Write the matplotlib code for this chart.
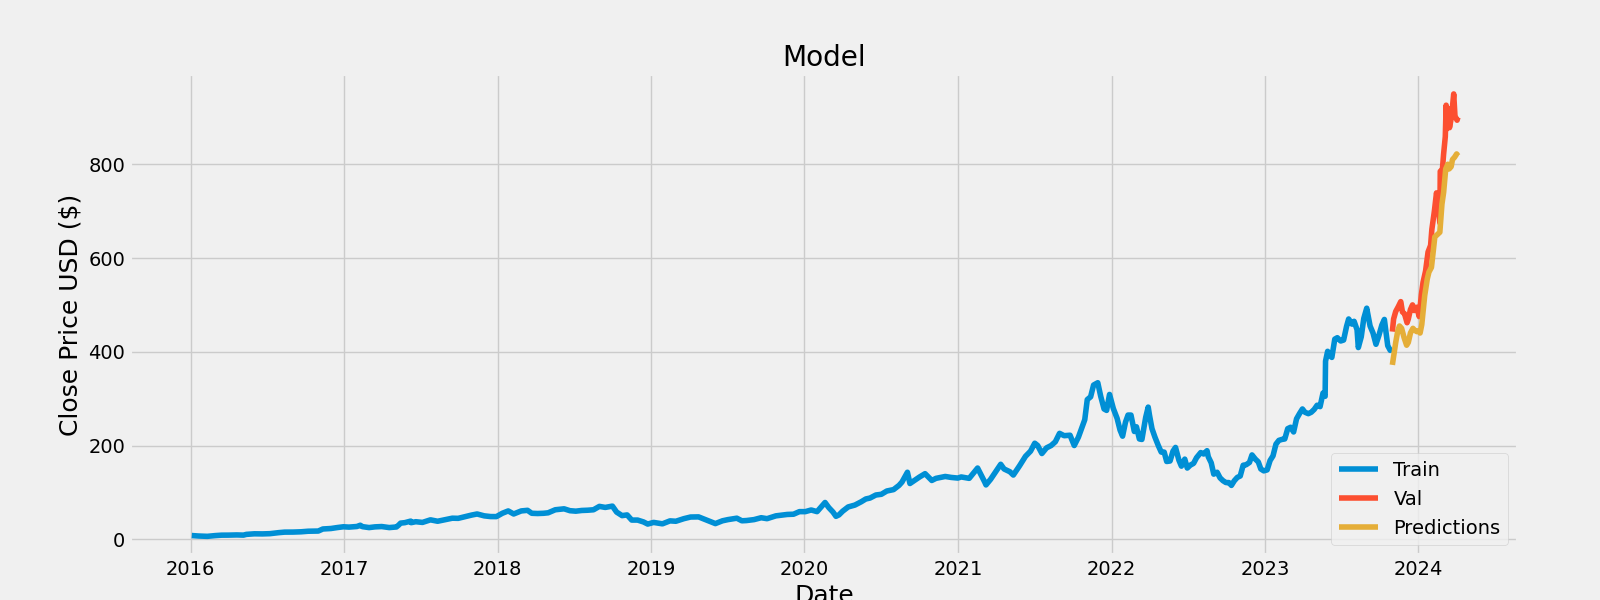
import matplotlib
matplotlib.use("Agg")
import matplotlib.pyplot as plt
import matplotlib.dates as mdates
import pandas as pd

plt.style.use("fivethirtyeight")

# ---- data ----
train_dates = [
    "2016-01-04", "2016-01-20", "2016-02-10", "2016-02-29", "2016-03-15", "2016-04-01", "2016-04-20",
    "2016-05-06", "2016-05-13", "2016-06-01", "2016-06-20", "2016-07-08", "2016-07-29", "2016-08-12",
    "2016-09-01", "2016-09-20", "2016-10-07", "2016-10-31", "2016-11-11", "2016-11-30", "2016-12-15",
    "2016-12-30",
    "2017-01-12", "2017-01-31", "2017-02-08", "2017-02-13", "2017-03-01", "2017-03-15", "2017-03-31",
    "2017-04-18", "2017-05-05", "2017-05-10", "2017-05-15", "2017-05-25", "2017-06-08", "2017-06-09",
    "2017-06-20", "2017-07-06", "2017-07-25", "2017-08-11", "2017-08-31", "2017-09-15", "2017-09-29",
    "2017-10-16", "2017-10-31", "2017-11-13", "2017-11-30", "2017-12-15", "2017-12-29",
    "2018-01-12", "2018-01-26", "2018-02-08", "2018-02-26", "2018-03-13", "2018-03-23", "2018-04-06",
    "2018-04-20", "2018-05-01", "2018-05-18", "2018-06-08", "2018-06-22", "2018-07-06", "2018-07-20",
    "2018-08-03", "2018-08-17", "2018-08-31", "2018-09-14", "2018-10-01", "2018-10-11", "2018-10-24",
    "2018-11-05", "2018-11-16", "2018-11-30", "2018-12-14", "2018-12-24",
    "2019-01-07", "2019-01-28", "2019-02-15", "2019-03-01", "2019-03-20", "2019-04-05", "2019-04-24",
    "2019-05-10", "2019-05-17", "2019-06-03", "2019-06-20", "2019-07-03", "2019-07-24", "2019-08-05",
    "2019-08-16", "2019-09-03", "2019-09-20", "2019-10-04", "2019-10-25", "2019-11-08", "2019-11-21",
    "2019-12-06", "2019-12-20",
    "2020-01-03", "2020-01-17", "2020-01-31", "2020-02-19", "2020-02-28", "2020-03-09", "2020-03-16",
    "2020-03-23", "2020-04-01", "2020-04-14", "2020-04-30", "2020-05-15", "2020-05-26", "2020-06-05",
    "2020-06-19", "2020-07-02", "2020-07-15", "2020-07-31", "2020-08-13", "2020-08-20", "2020-09-02",
    "2020-09-08", "2020-09-18", "2020-10-01", "2020-10-14", "2020-10-30", "2020-11-09", "2020-11-20",
    "2020-12-01", "2020-12-15", "2020-12-31",
    "2021-01-08", "2021-01-27", "2021-02-16", "2021-03-05", "2021-03-08", "2021-03-19", "2021-04-12",
    "2021-04-20", "2021-05-04", "2021-05-12", "2021-05-27", "2021-06-10", "2021-06-22", "2021-07-02",
    "2021-07-09", "2021-07-19", "2021-07-30", "2021-08-10", "2021-08-20", "2021-08-30", "2021-09-10",
    "2021-09-24", "2021-10-04", "2021-10-14", "2021-10-29", "2021-11-04", "2021-11-12", "2021-11-19",
    "2021-11-29", "2021-12-06", "2021-12-14", "2021-12-20", "2021-12-27",
    "2022-01-05", "2022-01-14", "2022-01-21", "2022-01-27", "2022-02-03", "2022-02-09", "2022-02-16",
    "2022-02-24", "2022-03-01", "2022-03-08", "2022-03-14", "2022-03-23", "2022-03-29", "2022-04-01",
    "2022-04-07", "2022-04-14", "2022-04-22", "2022-04-29", "2022-05-06", "2022-05-12", "2022-05-20",
    "2022-05-27", "2022-06-02", "2022-06-10", "2022-06-16", "2022-06-24", "2022-06-30", "2022-07-07",
    "2022-07-15", "2022-07-22", "2022-08-01", "2022-08-08", "2022-08-16", "2022-08-19", "2022-08-26",
    "2022-09-01", "2022-09-09", "2022-09-16", "2022-09-23", "2022-09-30", "2022-10-07", "2022-10-13",
    "2022-10-20", "2022-10-27", "2022-11-03", "2022-11-10", "2022-11-17", "2022-11-25", "2022-12-01",
    "2022-12-09", "2022-12-16", "2022-12-22", "2022-12-29",
    "2023-01-06", "2023-01-13", "2023-01-20", "2023-01-27", "2023-02-03", "2023-02-10", "2023-02-17",
    "2023-02-24", "2023-03-03", "2023-03-10", "2023-03-17", "2023-03-24", "2023-03-31", "2023-04-06",
    "2023-04-14", "2023-04-21", "2023-04-28", "2023-05-05", "2023-05-12", "2023-05-19", "2023-05-24",
    "2023-05-25", "2023-05-30", "2023-06-02", "2023-06-09", "2023-06-16", "2023-06-22", "2023-06-30",
    "2023-07-07", "2023-07-14", "2023-07-19", "2023-07-27", "2023-08-01", "2023-08-08", "2023-08-11",
    "2023-08-18", "2023-08-24", "2023-08-31", "2023-09-08", "2023-09-15", "2023-09-22", "2023-09-29",
    "2023-10-06", "2023-10-12", "2023-10-20", "2023-10-26", "2023-10-30",
]
train_values = [
    8.0, 7.0, 6.3, 7.9, 8.8, 8.9, 9.3,
    8.9, 10.5, 11.7, 11.5, 12.0, 14.2, 15.3,
    15.4, 16.0, 17.2, 17.6, 22.0, 23.0, 25.0,
    26.7,
    26.0, 27.3, 30.0, 27.0, 25.0, 26.5, 27.2,
    25.0, 26.3, 30.0, 34.5, 35.5, 38.8, 35.5,
    37.5, 36.0, 41.5, 38.5, 42.3, 45.0, 44.7,
    48.5, 51.7, 54.0, 50.0, 48.5, 48.4,
    55.5, 60.5, 54.0, 60.5, 61.8, 55.5, 55.0,
    55.5, 56.5, 63.0, 65.0, 61.0, 60.0, 61.5,
    62.0, 63.0, 70.2, 68.0, 70.8, 58.0, 50.5,
    52.0, 41.0, 41.0, 37.0, 32.5,
    36.0, 33.0, 39.3, 38.5, 44.0, 47.5, 47.8,
    42.0, 39.5, 33.5, 39.5, 42.0, 45.0, 39.5,
    40.0, 42.0, 46.0, 44.0, 50.0, 51.5, 53.0,
    53.5, 59.0,
    59.0, 62.5, 59.0, 78.5, 67.5, 58.0, 49.0,
    52.0, 60.0, 69.0, 73.0, 80.0, 86.0, 88.0,
    94.5, 96.0, 103.0, 106.0, 115.0, 122.0, 143.0,
    119.0, 125.0, 133.0, 140.0, 125.5, 130.0, 132.0,
    134.0, 132.0, 130.6,
    133.0, 130.0, 152.0, 122.0, 116.0, 128.0, 160.0,
    150.0, 144.0, 137.0, 157.0, 177.0, 188.0, 205.0,
    200.0, 183.0, 195.0, 200.0, 208.0, 226.0, 221.0,
    222.0, 200.0, 218.0, 255.0, 298.0, 304.0, 329.0,
    334.0, 305.0, 278.0, 275.0, 309.0,
    279.0, 258.0, 233.0, 220.0, 250.0, 265.0, 265.0,
    230.0, 240.0, 214.0, 213.0, 260.0, 282.0, 265.0,
    236.0, 218.0, 200.0, 186.0, 186.0, 166.0, 167.0,
    188.0, 196.0, 169.0, 156.0, 171.0, 152.0, 158.0,
    162.0, 174.0, 185.0, 182.0, 189.0, 176.0, 163.0,
    139.0, 143.0, 131.0, 125.0, 121.0, 121.0, 115.0,
    125.0, 132.0, 135.0, 158.0, 159.0, 164.0, 180.0,
    171.0, 165.0, 150.0, 146.0,
    148.0, 168.0, 178.0, 203.0, 211.0, 213.0, 214.0,
    236.0, 239.0, 229.0, 257.0, 268.0, 278.0, 271.0,
    268.0, 271.0, 277.0, 286.0, 283.0, 312.0, 305.0,
    380.0, 401.0, 393.0, 388.0, 427.0, 430.0, 423.0,
    425.0, 454.0, 470.0, 459.0, 465.0, 447.0, 409.0,
    432.0, 471.0, 493.0, 455.0, 440.0, 416.0, 435.0,
    457.0, 469.0, 413.0, 403.0, 407.0,
]

val_dates = [
    "2023-10-31", "2023-11-03", "2023-11-08", "2023-11-14", "2023-11-20", "2023-11-24", "2023-11-29",
    "2023-12-05", "2023-12-08", "2023-12-13", "2023-12-18", "2023-12-22", "2023-12-28", "2024-01-03",
    "2024-01-08", "2024-01-12", "2024-01-18", "2024-01-24", "2024-01-30", "2024-02-02", "2024-02-08",
    "2024-02-13", "2024-02-16", "2024-02-21", "2024-02-22", "2024-02-27", "2024-03-01", "2024-03-05",
    "2024-03-07", "2024-03-08", "2024-03-12", "2024-03-15", "2024-03-20", "2024-03-25", "2024-03-28",
    "2024-04-02", "2024-04-04",
]
val_values = [
    443, 470, 486, 496, 507, 485, 481,
    462, 470, 490, 500, 488, 495, 475,
    522, 548, 572, 613, 627, 661, 700,
    739, 726, 675, 785, 788, 822, 859,
    926, 875, 919, 878, 903, 950, 903,
    894, 900,
]

pred_dates = [
    "2023-10-31", "2023-11-03", "2023-11-08", "2023-11-13", "2023-11-17", "2023-11-22", "2023-11-28",
    "2023-12-04", "2023-12-08", "2023-12-13", "2023-12-19", "2023-12-22", "2023-12-28", "2024-01-03",
    "2024-01-05", "2024-01-09", "2024-01-16", "2024-01-22", "2024-01-26", "2024-02-01", "2024-02-06",
    "2024-02-09", "2024-02-15", "2024-02-21", "2024-02-26", "2024-03-01", "2024-03-06", "2024-03-11",
    "2024-03-14", "2024-03-19", "2024-03-22", "2024-03-27", "2024-04-01", "2024-04-04",
]
pred_values = [
    372, 390, 420, 445, 455, 450, 430,
    414, 420, 440, 450, 447, 443, 445,
    440, 458, 520, 555, 570, 580, 620,
    645, 650, 655, 715, 740, 790, 800,
    790, 795, 810, 815, 822, 818,
]

train_x = pd.to_datetime(train_dates)
val_x = pd.to_datetime(val_dates)
pred_x = pd.to_datetime(pred_dates)

fig = plt.figure(figsize=(16, 6), dpi=100)
ax = fig.add_axes([0.08125, 0.075, 0.8675, 0.8017])
ax.plot(train_x, train_values, label="Train")
ax.plot(val_x, val_values, label="Val")
ax.plot(pred_x, pred_values, label="Predictions")

ax.set_title("Model")
ax.set_xlabel("Date", fontsize=18)
ax.set_ylabel("Close Price USD ($)", fontsize=18)
ax.set_xlim(pd.Timestamp("2015-08-10"), pd.Timestamp("2024-08-25"))
ax.set_ylim(-33.5, 992.6)
ax.set_yticks([0, 200, 400, 600, 800])
ax.xaxis.set_major_locator(mdates.YearLocator())
ax.xaxis.set_major_formatter(mdates.DateFormatter("%Y"))
ax.legend(loc="lower right")

fig.savefig("out.png", dpi=100)
